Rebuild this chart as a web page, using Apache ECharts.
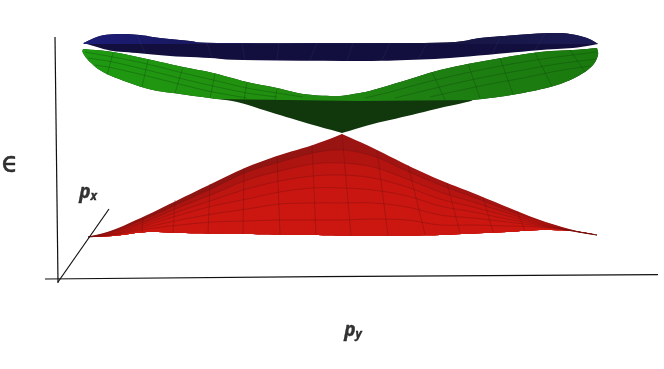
<!DOCTYPE html>
<html><head><meta charset="utf-8">
<style>html,body{margin:0;padding:0;background:#fff}#c{width:664px;height:369px;filter:blur(.4px)}</style>
<script src="https://cdn.jsdelivr.net/npm/echarts@6/dist/echarts.min.js"></script>
</head><body><div id="c"></div>
<script>
// Axes of the sketch
const axisEnergy=[[55,37],[58,283]];
const axisPy=[[45,279],[320,276.7],[658,274.7]];
const axisPx=[[58,282],[109,209]];

// Red band: columns and parallels
const redX=[88,113,147,180,213,247,280,313,342,373,407,440,473,507,540,573,597];
const apexColumn=8;
const redRows=[
 [237,230,215,199,183,167,155,145,134,148,165,180,193,207,220,230,235],
 [237,231,218,203,188,172,162,153,150,156,171,185,197,210,221,230.5,235],
 [237,232,221,207,194,180,171,164,163,167,179,192,202,213,223,231,235],
 [237,233,223,211,200,189,181,176,175,178,187,199,207,216,224,231,235],
 [237,234,225,215,206,199,192,188,188,190,196,206,212,219,225,231,235],
 [237,234.5,227,220,214,209,204,203,203,203,207,215,218,222,226,231,235],
 [237,235,229,225,222,221,220,220,220,219,220,225,225,226,227,231,235],
 [237,236,232,233,233.5,234,234.5,235,235.5,235.5,235.5,235,233.5,232,230,231,235]
];
const redMeridians=[
 [[143,217],[142,232]],[[175,200],[173,233]],[[210,184],[208,233.5]],[[244,168],[243,234]],
 [[277,156],[280,234.5]],[[312,145],[316,235]],[[342,134],[351,235.5]],[[377,150],[388,235.5]],
 [[408,165],[425,234.5]],[[447,183],[460,233]],[[483,197],[493,232]],[[517,211],[525,231]]
];

// Green band: light upper sheet and dark underside
const greenTop=[[83,49],[113,52],[147,59],[183,67],[213,73],[247,82],[277,88],[303,94],[330,96],[340,96],[360,93],[373,90],[407,80],[440,70],[473,63],[507,57],[540,52],[573,50],[597,48]];
const greenEnd=[[597,48],[598,55],[593,65],[580,75],[557,85],[523,93],[490,98],[473,100]];
const greenFold=[[473,100],[360,101],[213,99]];
const greenBelowRight=[[473,100],[467,102],[440,108],[407,116],[373,124],[342,133]];
const greenBelowLeft=[[342,133],[303,122],[270,112],[237,102],[213,98.5]];
const greenStart=[[213,98.5],[180,94],[153,90],[127,82],[103,72],[90,62],[83,53],[83,49]];
const greenParallels=[
 [[85,52],[113,57],[147,64],[183,73],[213,80],[247,88],[277,93],[303,97]],
 [[88,58],[113,62],[147,70],[183,79],[213,86],[247,93],[277,97]],
 [[95,65],[113,68],[147,76],[183,85],[213,92],[247,98]],
 [[597,52],[557,57],[523,62],[490,68],[457,75],[423,83],[390,92],[365,98]],
 [[596,59],[557,64],[523,70],[490,76],[457,83],[423,91],[395,98]],
 [[590,66],[557,71],[523,78],[490,84],[457,91],[430,97]]
];
const greenMeridians=[
 [[113,53],[107,75]],[[148,60],[142,87]],[[183,67],[175,93]],[[215,74],[210,98]],[[247,82],[244,100]],[[277,89],[275,100]],
 [[432,72],[445,100]],[[468,64],[480,98]],[[500,58],[513,94]],[[535,53],[552,86]],[[570,50],[585,72]]
];

// Blue band: lit rim and dark underside
const blueTop=[[83.5,43],[100,36],[120,34],[140,35],[160,38],[190,41],[217,43],[360,43],[447,42.5],[480,38],[510,35.5],[550,33],[570,34],[587,38],[598,44]];
const blueBelow=[[598,44],[573,48],[547,49.5],[507,53],[450,58],[407,60],[360,61],[243,60],[210,58],[170,56],[137,53],[113,51],[97,47],[83.5,43]];
const blueFold=[[598,44],[450,44],[217,44],[83.5,44]];
const blueMeridians=[[[207,43],[212,58]],[[242,43],[245,60]],[[279,43],[277,60]],[[317,43],[310,60]],[[353,43],[347,61]],[[390,43],[382,60]],[[427,43],[418,60]],[[137,35],[145,53]],[[500,37],[492,55]],[[545,34],[535,50]]];

const labels=[
 {anchor:[10,165],main:'ϵ',sub:''},
 {anchor:[88,193],main:'p',sub:'x'},
 {anchor:[353,331],main:'p',sub:'y'}
];

// drawing curve: rounds a read outline the way a smooth line series would
function S(p){
 const o=[];
 for(let i=0;i<p.length-1;i++){
  const a=p[Math.max(i-1,0)],b=p[i],c=p[i+1],d=p[Math.min(i+2,p.length-1)];
  for(let k=0;k<6;k++){
   const t=k/6,t2=t*t,t3=t2*t;
   const f=j=>.5*(2*b[j]+(c[j]-a[j])*t+(2*a[j]-5*b[j]+4*c[j]-d[j])*t2+(3*b[j]-a[j]-3*c[j]+d[j])*t3);
   o.push([f(0),f(1)]);
  }
 }
 o.push(p[p.length-1]);
 return o;
}

const G=echarts.graphic.LinearGradient;
const shapes=[];
function poly(pts,fill){shapes.push({t:'polygon',pts,fill});}
function line(pts,stroke,w){shapes.push({t:'polyline',pts,stroke,w});}
const hg=(...c)=>new G(0,0,1,0,c.map((color,i)=>({offset:i/(c.length-1),color})));

// blue
poly(S(blueTop).concat(S(blueBelow)),'#120f3e');
poly(S(blueTop).concat(blueFold),hg('#1c1c78','#17164f','#15143f','#1b1a55'));
blueMeridians.forEach(m=>line(m,'rgba(70,70,120,.3)',.6));
// green
poly(S(greenTop).concat(S(greenEnd),S(greenBelowRight),S(greenBelowLeft),S(greenStart)),'#10380c');
poly(S(greenTop).concat(S(greenEnd),greenFold,S(greenStart)),hg('#1f9a12','#21900f','#1e7f12','#1a7a0e'));
greenParallels.forEach(m=>line(S(m),'rgba(10,70,10,.6)',.6));
greenMeridians.forEach(m=>line(m,'rgba(10,70,10,.6)',.6));
// red
const bandL=['#8f1512','#ab1410','#bd1510','#c61510','#ca1610','#cc1610','#cc1610'];
const bandR=['#a41412','#b61410','#c31510','#c81510','#ca1610','#cc1610','#cc1610'];
const rowPts=redRows.map((row,r)=>{
 const pts=row.map((y,i)=>[redX[i],y]);
 return r===0?S(pts.slice(0,apexColumn+1)).concat(S(pts.slice(apexColumn))):S(pts);
});
const redBottom=rowPts[rowPts.length-1].slice().reverse();
for(let r=0;r<redRows.length-1;r++){
 poly(rowPts[r].concat(redBottom),hg(bandL[r],bandL[r],bandR[r],bandR[r]));
}
rowPts.slice(1,-1).forEach(row=>line(row,'rgba(110,15,15,.5)',.7));
redMeridians.forEach(m=>line(m,'rgba(110,15,15,.5)',.7));
// axes
[axisEnergy,axisPy,axisPx].forEach(a=>line(a,'#111',1.2));

const chart=echarts.init(document.getElementById('c'),null,{renderer:'canvas'});
const heavy={textBorderColor:'#000',textBorderWidth:.4};
chart.setOption({
 animation:false,
 grid:{left:0,right:0,top:0,bottom:0},
 xAxis:{type:'value',min:0,max:664,show:false},
 yAxis:{type:'value',min:0,max:369,inverse:true,show:false},
 series:[
 {type:'custom',coordinateSystem:'cartesian2d',clip:false,silent:true,
  data:shapes.map((s,i)=>[s.pts[0][0],s.pts[0][1],i]),
  renderItem(params,api){
   const s=shapes[params.dataIndex];
   const points=s.pts.map(p=>api.coord(p));
   return {type:s.t,shape:{points},
    style:s.t==='polygon'?{fill:s.fill,stroke:null,lineWidth:0}:{fill:null,stroke:s.stroke,lineWidth:s.w}};
  }},
 {type:'scatter',symbolSize:0,silent:true,
  data:labels.map(l=>({value:l.anchor,main:l.main,sub:l.sub})),
  label:{show:true,position:'inside',
   formatter:p=>p.data.sub?`{m|${p.data.main}}{s|${p.data.sub}}`:`{e|${p.data.main}}`,
   rich:{
    m:{fontFamily:'Open Sans',fontWeight:'bold',fontStyle:'italic',fontSize:19,color:'#000',...heavy},
    s:{fontFamily:'Open Sans',fontWeight:'bold',fontStyle:'italic',fontSize:12,color:'#000',verticalAlign:'bottom',padding:[8,0,0,0],...heavy},
    e:{fontFamily:'DejaVu Sans',fontSize:28,color:'#000',...heavy}
   }}}
 ]
});
</script></body></html>
